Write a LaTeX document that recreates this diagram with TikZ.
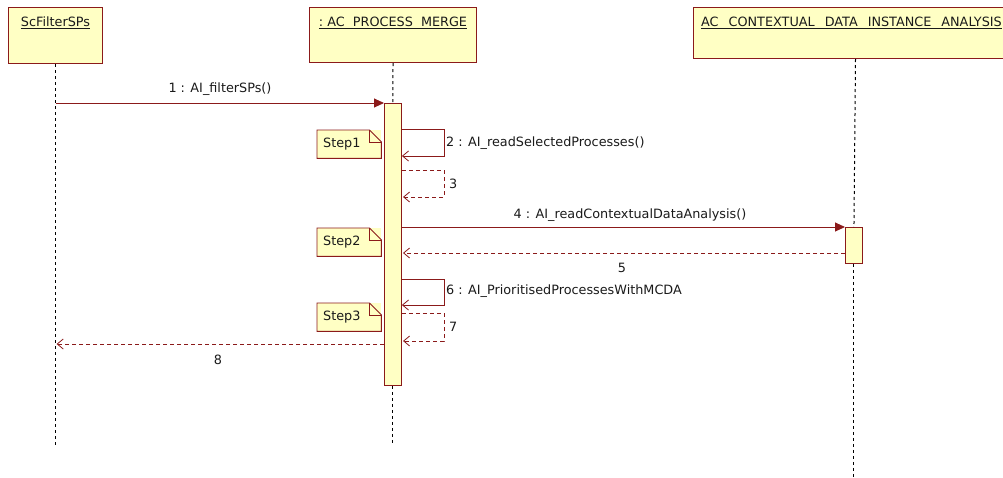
\documentclass[tikz,border=0pt]{standalone}
\usepackage{fontspec}
\setmainfont{DejaVu Sans}
\usetikzlibrary{arrows.meta}
\definecolor{frame}{HTML}{8B1A1A}
\definecolor{boxfill}{HTML}{FFFFC4}
\definecolor{txt}{HTML}{1A1A1A}
\begin{document}
\begin{tikzpicture}[x=1pt,y=-1pt,
  font=\fontsize{12.8}{15}\selectfont, text=txt,
  head/.style={draw=frame, fill=boxfill, line width=1pt, anchor=north west, inner sep=0pt},
  life/.style={dash pattern=on 3pt off 3pt, line width=1pt, black},
  bar/.style={draw=frame, fill=boxfill, line width=0.9pt, anchor=north west, inner sep=0pt, minimum width=17pt},
  call/.style={draw=frame, line width=0.9pt, -{Triangle[length=10pt,width=9pt]}},
  self/.style={draw=frame, line width=0.8pt, -{Straight Barb[length=6pt,width=10pt,line width=0.8pt]}},
  ret/.style={draw=frame, line width=0.8pt, dash pattern=on 4pt off 3pt, -{Straight Barb[length=6pt,width=10pt,line width=0.8pt,sep]}},
  notebox/.style={fill=boxfill, draw=none, anchor=north west, inner sep=0pt, minimum width=64pt, minimum height=28pt},
  lbl/.style={inner sep=1pt}
]
\useasboundingbox (0,0) rectangle (1003,477);
\begin{scope}
\clip (0,0) rectangle (1003,477);
% heads
\node[head, minimum width=94pt, minimum height=56pt] (h1) at (8,7) {};
\node[lbl] (t1) at (h1.north |- 0,23) {\underline{ScFilterSPs}};
\node[head, minimum width=167pt, minimum height=55pt] (h2) at (309,7) {};
\node[lbl] (t2) at (h2.north |- 0,23) {\underline{:\ AC\ \ PROCESS\ \ MERGE}};
\node[head, minimum width=324pt, minimum height=51pt] (h3) at (693,7) {};
\node[lbl, anchor=west] (t3) at (700,23) {\underline{AC\hspace{10pt}CONTEXTUAL\hspace{10pt}DATA\hspace{10pt}INSTANCE\hspace{10pt}ANALYSIS}};
% activation bars
\node[bar, minimum height=282pt] (b2) at (384,103) {};
\node[bar, minimum height=36pt] (b3) at (845,227) {};
% lifelines
\coordinate (l1e) at (h1.south |- 0,445);
\coordinate (l2e) at (b2.south |- 0,445);
\coordinate (l3e) at (b3.south |- 0,477);
\draw[life] (h1.south) -- (l1e);
\draw[life] (h2.south) -- (b2.north);
\draw[life] (b2.south) -- (l2e);
\draw[life] (h3.south) -- (b3.north);
\draw[life] (b3.south) -- (l3e);
% message 1
\coordinate (m1s) at (h1.south |- 0,103);
\draw[call] (m1s) -- (m1s -| b2.west);
\node[lbl] (n1) at (220,89) {1 : AI\_filterSPs()};
% self 2
\coordinate (m2s) at (b2.east |- 0,129);
\coordinate (m2e) at (b2.east |- 0,156);
\draw[self] (m2s) -- ++(42,0) -- ++(0,27) -- (m2e);
\node[lbl, anchor=west] (n2) at (445,143) {2 : AI\_readSelectedProcesses()};
% return 3
\coordinate (m3s) at (b2.east |- 0,170);
\coordinate (m3e) at (b2.east |- 0,197);
\draw[ret] (m3s) -- ++(42,0) -- ++(0,27) -- (m3e);
\node[lbl, anchor=west] (n3) at (448,184) {3};
% message 4
\coordinate (m4s) at (b2.east |- 0,227);
\draw[call] (m4s) -- (m4s -| b3.west);
\node[lbl] (n4) at (630,215) {4 : AI\_readContextualDataAnalysis()};
% return 5
\coordinate (m5s) at (b3.west |- 0,253);
\draw[ret] (m5s) -- (m5s -| b2.east);
\node[lbl] (n5) at (622,268) {5};
% self 6
\coordinate (m6s) at (b2.east |- 0,279);
\coordinate (m6e) at (b2.east |- 0,305);
\draw[self] (m6s) -- ++(42,0) -- ++(0,26) -- (m6e);
\node[lbl, anchor=west] (n6) at (445,291) {6 : AI\_PrioritisedProcessesWithMCDA};
% return 7
\coordinate (m7s) at (b2.east |- 0,313);
\coordinate (m7e) at (b2.east |- 0,341);
\draw[ret] (m7s) -- ++(42,0) -- ++(0,28) -- (m7e);
\node[lbl, anchor=west] (n7) at (448,327) {7};
% return 8
\coordinate (m8s) at (b2.west |- 0,344);
\draw[ret] (m8s) -- (m8s -| h1.south);
\node[lbl] (n8) at (218,360) {8};
% notes
\foreach \nm/\y/\t in {s1/130/Step1, s2/228/Step2, s3/303/Step3}{
  \node[notebox] (\nm) at (317,\y) {};
  \draw[frame, line width=0.9pt] (\nm.north west) -- ([xshift=-12pt]\nm.north east) -- ([yshift=-12pt]\nm.north east) -- (\nm.south east) -- (\nm.south west) -- cycle;
  \draw[frame, line width=0.8pt] ([xshift=-12pt]\nm.north east) -- ([xshift=-12pt,yshift=-12pt]\nm.north east) -- ([yshift=-12pt]\nm.north east);
  \node[lbl, anchor=west] at ([xshift=5pt]\nm.west) {\t};
}
\end{scope}
\end{tikzpicture}
\end{document}
